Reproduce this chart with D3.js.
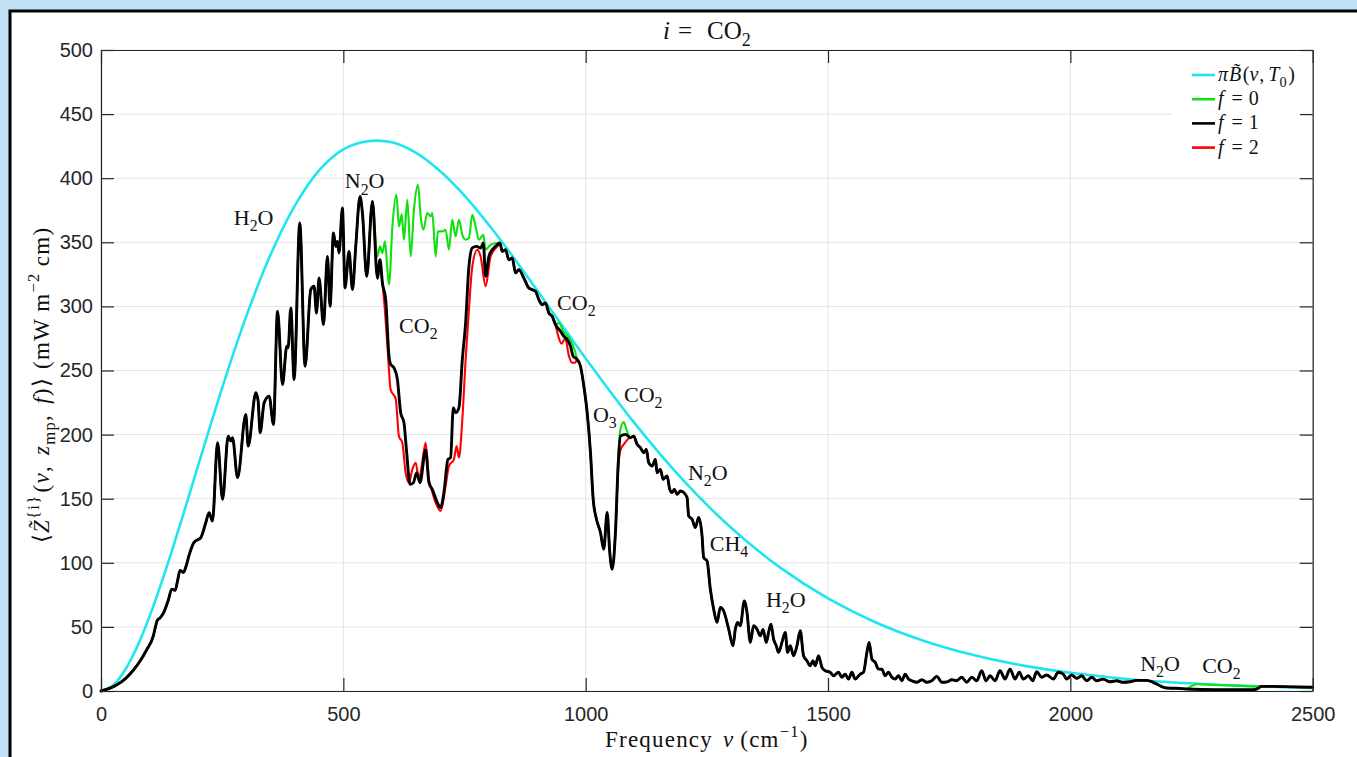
<!DOCTYPE html>
<html><head><meta charset="utf-8">
<script src="https://cdn.jsdelivr.net/npm/d3@7"></script>
<style>
html,body{margin:0;padding:0;background:#bfe0f5;overflow:hidden;}
text{white-space:pre;}
</style></head>
<body>
<svg id="c" width="1357" height="757"></svg>
<script>
// ---------- DATA ----------
const xTicks = [0, 500, 1000, 1500, 2000, 2500];
const yTicks = [0, 50, 100, 150, 200, 250, 300, 350, 400, 450, 500];

// Planck curve pi*B(nu,T0)
const nuPlanck = [0,25,50,75,100,125,150,175,200,250,300,350,400,450,500,550,600,650,700,750,800,850,900,950,1000,1100,1200,1300,1400,1500,1600,1700,1800,1900,2000,2100,2200,2300,2400,2500];
const zPlanck  = [0,4.4,16.6,34.9,58.0,84.7,113.8,144.3,175.4,236.5,292.6,340.5,378.6,406.1,422.5,428.8,428.0,419.8,405.5,386.5,363.7,338.8,312.4,285.8,259.4,209.3,164.9,127.3,96.6,72.2,53.2,38.8,28.0,20.0,14.2,10.0,7.0,4.9,3.4,2.3];

// f = 1 (black)
const nuF1 = [0,20,32,50,67,80,94,108,113,116,122,129,139,146,153,158,163,170,176,181,192,206,216,223,230,240.5,250.8,262.4,268,271.4,281.7,298.8,303.6,319.5,324.2,328.3,336.6,346.9,355.9,364.2,374.5,383.3,386.1,391.6,398.4,410.1,421.1,432.8,439.6,444.6,449.9,459,467.2,472.6,479.6,484.3,487.8,491.1,498.1,503.5,511.7,518.8,525.6,534.4,539.4,548.2,560,570.3,575.6,580.6,587.4,594.2,597.7,604.5,611.5,618.3,625.1,630.7,637.5,644.5,651.3,658.1,669.8,676.6,683.6,693.9,700.7,707.5,715.8,721.3,726.9,731.7,738.5,745.5,752.3,759.1,766.1,775,783.2,788.8,793.5,800.3,807.3,817.6,823,827.9,834.7,841.5,848.5,855.3,862.1,872.4,882.7,889.7,896.5,903.4,910.3,917.1,923.9,930.9,937.7,948.1,954.9,961.9,968.7,974.2,982.5,989.3,996.2,1003.1,1009.9,1015.5,1022.3,1030.5,1037.3,1044.3,1049.7,1054.6,1061.4,1066.9,1071.7,1082,1092.3,1099.1,1106.1,1112.9,1119.7,1125.3,1130,1137,1143.9,1147.3,1154.2,1159.7,1168,1173.4,1178.1,1183,1188.6,1195.4,1202.2,1209.2,1212.5,1219.5,1226.3,1233.1,1240.1,1243.4,1250.4,1257.2,1264,1271,1277.8,1284.6,1295,1304,1308.8,1313.5,1319,1327.3,1332.8,1339.7,1346.4,1353.4,1360.3,1366,1372.6,1377.4,1382.2,1387.7,1393.2,1398,1404.9,1411.8,1416.5,1422.1,1428.9,1435.9,1442.7,1449.5,1456.5,1463.3,1468.9,1473.6,1480.4,1487.4,1494.2,1504.5,1511.3,1521.6,1528.6,1535.4,1542.2,1549.2,1556.1,1566.4,1573.2,1580.2,1584.9,1590.5,1597.3,1604.1,1611,1617.9,1624.7,1631.7,1638.5,1645.3,1652.3,1659.1,1665.9,1672.9,1683.2,1693.5,1703.8,1714,1724.4,1734.7,1745,1755.4,1765,1775.9,1786.2,1796.5,1806.8,1817.1,1826,1834.3,1844.6,1854.9,1865.2,1875.5,1885.8,1894.7,1903,1913.3,1922.3,1930.5,1940.8,1951.2,1964.8,1975.1,1985.4,1992.4,2002.7,2013,2023.3,2033.6,2043.9,2054.2,2067.8,2081.6,2095.4,2109,2122.8,2136.6,2157.2,2170.9,2184.7,2198.4,2219,2239.6,2301.4,2377,2387.3,2394.3,2418,2460,2500];
const zF1 = [0,2.5,4.7,9.5,16.4,23,32,43,51,55,57,61,71,79.5,78.5,86,94,92.5,98,105,116,119.7,131,139,132.6,193.7,149.5,198.8,195,197.6,166.4,215.7,191,232.6,226.1,201.5,224.8,230,207.9,296.2,239.1,268.9,267.7,298.8,243,365,253.3,313.1,315.7,294.9,322.2,285.8,339,300.1,357.2,346.8,350.7,341.7,376.7,314.4,342.9,313.1,346.8,385.7,372.8,323.4,381.9,322,336.4,318.3,305.3,261.1,254.7,252.1,243,217.1,209.3,185.9,161.2,162.5,170.3,162.5,188,162.5,157.3,147,143.1,154.8,180.7,182,221,217.1,221,258.6,287.2,331.2,345.6,346.8,345.6,349.4,323.4,339,344.2,348.1,349.4,342.9,344.2,336.4,337.8,326.1,328.7,322.2,314.4,313.1,311.8,305.3,301.4,302.7,294.9,292.3,285.8,280.6,276.7,274.1,268.9,261.1,258.6,253.3,237.8,217.1,185.9,149.5,134,123.6,110.6,139.2,108,95,123.6,175.5,198.8,200.2,197.6,198.8,192.4,189.8,185.9,188.5,178.1,175.5,180.7,170.3,172.9,165.1,167.7,157.3,154.8,157.3,153.4,156,154.8,150.9,136.5,134,127.5,135.3,121,104.1,101.5,79.4,63.9,53.5,65.2,62.5,48.3,35.3,48.3,53.5,50.9,70.3,61.3,37.9,50.9,48.3,43.1,48,37.9,45.7,52.2,40.5,35.3,30.1,37.9,45.7,30.1,35.3,27.5,35.3,47,27.5,23.6,19.7,23.6,19.7,27.5,18.5,15.8,14.6,11.9,14.6,10.7,13.2,9.3,14.6,9.3,13.2,14.6,30.1,37.9,24.9,22.4,17.1,17,11.9,14.6,10.7,9.3,11.9,8,13.2,9.3,8,6.8,8.8,6.8,8,11.4,6.8,7,8.8,8,10.7,6.8,10.7,8,15.8,8,11.9,8,15.8,9.3,17.1,9.3,14.6,9.3,11.9,8,15,10.7,12.5,9.3,14.6,13.2,9.3,12.5,9.9,11.9,8,10.7,8,9.3,7.2,8,6.8,7.2,8.3,8.3,6.8,4.1,2.3,2.1,1.6,1,1,2.1,3.6,3.6,3.2,2.9];

// f = 0 (green): points where it departs from f = 1
const rangesF0 = [[561,822],[940,981],[1063,1095],[2240,2392]];
const nuF0 = [570.3,575.6,580.6,585.9,590.9,594.2,601.2,609.4,614.8,620.4,625.1,632.1,638.9,645.7,653.9,659.5,665.1,673.3,680.1,683.6,690.4,695.2,704.2,711,717.8,724.7,731.7,738.5,745.5,752.3,759.1,766.1,772.9,779.7,788.8,793.5,803.8,817.6,944,955,968,978,1066.9,1071.7,1078.6,1085,1092.3,2248,2262,2300,2340,2385];
const zF0  = [339,346.8,341.7,350.7,328.7,317,362.4,387.1,362.4,371.8,352,383.2,339,375.4,394.9,370.2,359.8,372.8,370.2,372.8,339,358.5,358.5,359.8,344.2,367.6,354.6,367.6,355.9,352,353.3,371.5,362.4,352,355.9,344.2,348.1,349.4,287,280,274,265,180,204,209.7,203,197.6,3.5,5.3,4.8,4.2,3.6];

// f = 2 (red): points where it departs from f = 1
const rangesF2 = [[582,822],[940,981],[1063,1095]];
const nuF2 = [584,591,597.7,608,614.8,621.7,628.5,635.3,642.3,649.2,656,662,669.8,676.6,680.1,690.4,700.7,711,717.8,728.1,733.7,738.5,745.5,752.3,759.1,766.1,776.4,783.2,793.5,803.8,817.6,944,950,958,965,972,978,1066.9,1071.7,1078.6,1086,1092.3];
const zF2  = [305,269,235,228,198.5,193.7,170.3,162.5,172.9,178.1,165.1,176,193.7,165.1,159.9,147,140.4,159.9,175.5,180.7,191,182,211.8,258.6,297.5,331.2,344.2,339,315.7,339,346.8,276,271,275,262,256,256,172,188,192.4,196,197.6];

// annotations: [nu, value, parts]
const annotations = [
  [274, 363.5, [["H"],["2","sub"],["O"]]],
  [503, 392, [["N"],["2","sub"],["O"]]],
  [615, 279, [["CO"],["2","sub"]]],
  [941, 297, [["CO"],["2","sub"]]],
  [1015, 209.8, [["O"],["3","sub"]]],
  [1079, 225.4, [["CO"],["2","sub"]]],
  [1211, 164.6, [["N"],["2","sub"],["O"]]],
  [1256, 109.2, [["CH"],["4","sub"]]],
  [1372, 65.5, [["H"],["2","sub"],["O"]]],
  [2144, 15.6, [["N"],["2","sub"],["O"]]],
  [2272, 14, [["CO"],["2","sub"]]]
];
const legendItems = [
  ["#1ee6f0", [["π","it"],["B\u0303","it",1],["(","",1.5],["ν","it"],[",","",1],["T","it",4],["0","sub"],[")","",1.5]]],
  ["#10e010", [["f","it"],["=","",8],["0","",6]]],
  ["#000000", [["f","it"],["=","",8],["1","",6]]],
  ["#ff0000", [["f","it"],["=","",8],["2","",6]]]
];

// ---------- BUILD ----------
function merge(baseNu, baseZ, ranges, nu, z){
  const inR = v => ranges.some(r => v > r[0] && v < r[1]);
  const pts = [];
  baseNu.forEach((v,i)=>{ if(!inR(v)) pts.push([v, baseZ[i]]); });
  nu.forEach((v,i)=> pts.push([v, z[i]]));
  pts.sort((a,b)=>a[0]-b[0]);
  return pts;
}
const f1 = nuF1.map((v,i)=>[v, zF1[i]]);
const f0 = merge(nuF1, zF1, rangesF0, nuF0, zF0);
const f2 = merge(nuF1, zF1, rangesF2, nuF2, zF2);
const planck = nuPlanck.map((v,i)=>[v, zPlanck[i]]);

const svg = d3.select("#c");
const L = 101, R = 1312.7, T = 50, B = 691;
const x = d3.scaleLinear().domain([0,2500]).range([L,R]);
const y = d3.scaleLinear().domain([0,500]).range([B,T]);

const SERIF = "'Liberation Serif','Times New Roman',serif";
const SANS = "'Liberation Sans',Arial,Helvetica,sans-serif";
const AX = "#262626";

// figure frame
svg.append("rect").attr("x",10).attr("y",11).attr("width",1400).attr("height",800)
  .attr("fill","#fff").attr("stroke","#000").attr("stroke-width",3);

// grid
const g = svg.append("g");
g.selectAll(".gx").data(xTicks).enter().append("line")
  .attr("x1",d=>x(d)).attr("x2",d=>x(d)).attr("y1",T).attr("y2",B)
  .attr("stroke","#e4e4e4").attr("stroke-width",1);
g.selectAll(".gy").data(yTicks).enter().append("line")
  .attr("y1",d=>y(d)).attr("y2",d=>y(d)).attr("x1",L).attr("x2",R)
  .attr("stroke","#e4e4e4").attr("stroke-width",1);

function rich(t, parts, fs){
  let cur = 0;
  parts.forEach(p=>{
    const s = p[0], mode = p[1] || "", dx = p[2] || 0;
    let target = 0, size = fs;
    if(mode.includes("sub")){ target = fs*0.28; size = fs*0.72; }
    if(mode.includes("sup")){ target = -fs*0.42; size = fs*0.72; }
    const ts = t.append("tspan").text(s).attr("font-size", size).attr("dy", target-cur);
    if(dx) ts.attr("dx", dx);
    if(mode.includes("it")) ts.attr("font-style","italic");
    cur = target;
  });
}

// lines
const line = d3.line().x(d=>x(d[0])).y(d=>y(d[1])).curve(d3.curveMonotoneX);
const smooth = d3.line().x(d=>x(d[0])).y(d=>y(d[1])).curve(d3.curveCatmullRom.alpha(0.5));
const plot = svg.append("g").attr("fill","none").attr("stroke-linejoin","round").attr("stroke-linecap","round");
plot.append("path").datum(planck).attr("d",smooth).attr("stroke","#1ee6f0").attr("stroke-width",2.6);
plot.append("path").datum(f0).attr("d",line).attr("stroke","#10e010").attr("stroke-width",2.1);
plot.append("path").datum(f2).attr("d",line).attr("stroke","#ff0000").attr("stroke-width",2.1);
plot.append("path").datum(f1).attr("d",line).attr("stroke","#000").attr("stroke-width",2.9);

// annotations
annotations.forEach(a=>{
  const t = svg.append("text").attr("x",x(a[0])).attr("y",y(a[1]))
    .attr("font-family",SERIF).attr("font-size",22).attr("fill","#111");
  rich(t, a[2], 22);
});

// axes
function styleAxis(sel){
  sel.select(".domain").attr("stroke",AX).attr("stroke-width",1.2);
  sel.selectAll(".tick line").attr("stroke",AX).attr("stroke-width",1.2);
  sel.selectAll("text").attr("fill",AX).attr("font-family",SANS).attr("font-size",20);
}
svg.append("g").attr("transform",`translate(0,${B})`)
  .call(d3.axisBottom(x).tickValues(xTicks).tickSize(-13).tickSizeOuter(0).tickPadding(16).tickFormat(d3.format("d")))
  .call(styleAxis);
svg.append("g").attr("transform",`translate(0,${T})`)
  .call(d3.axisTop(x).tickValues(xTicks).tickSize(-13).tickSizeOuter(0).tickFormat(""))
  .call(styleAxis);
svg.append("g").attr("transform",`translate(${L},0)`)
  .call(d3.axisLeft(y).tickValues(yTicks).tickSize(-13).tickSizeOuter(0).tickPadding(8).tickFormat(d3.format("d")))
  .call(styleAxis);
svg.append("g").attr("transform",`translate(${R},0)`)
  .call(d3.axisRight(y).tickValues(yTicks).tickSize(-13).tickSizeOuter(0).tickFormat(""))
  .call(styleAxis);

// legend
const lg = svg.append("g");
lg.append("rect").attr("x",1172).attr("y",54).attr("width",128).attr("height",106).attr("fill","#fff");
legendItems.forEach((it,i)=>{
  const yy = 75 + i*24.2;
  lg.append("line").attr("x1",1192).attr("x2",1215).attr("y1",yy).attr("y2",yy)
    .attr("stroke",it[0]).attr("stroke-width",2.6);
  const t = lg.append("text").attr("x",1218).attr("y",yy+6).attr("font-family",SERIF)
    .attr("font-size",20).attr("fill","#111");
  rich(t, it[1], 20);
});

// title
const tt = svg.append("text").attr("x",(L+R)/2).attr("y",39).attr("text-anchor","middle")
  .attr("font-family",SERIF).attr("font-size",25).attr("fill","#111");
rich(tt, [["i","it"],["=","",8],["CO","",15],["2","sub"]], 25);

// x label
const xl = svg.append("text").attr("x",(L+R)/2).attr("y",747).attr("text-anchor","middle")
  .attr("font-family",SERIF).attr("font-size",23).attr("fill","#111").attr("letter-spacing",1.2);
rich(xl, [["Frequency "],["ν","it",3],["(cm","",6],["−1","sup"],[")"]], 23);

// y label
const yl = svg.append("text").attr("transform","translate(49,385) rotate(-90)").attr("text-anchor","middle")
  .attr("font-family",SERIF).attr("font-size",23).attr("fill","#111")
  .attr("letter-spacing",1.3).attr("word-spacing",3);
rich(yl, [["⟨"],["Z\u0303","it"],["{i}","sup"],["(","",2],["ν","it"],[", "],["z","it"],["mp","sub"],[", "],["f","it"],[")⟩"],["(mW","",8],["m","",6],["−2","sup"],["cm)","",6]], 23);
</script>
</body></html>
